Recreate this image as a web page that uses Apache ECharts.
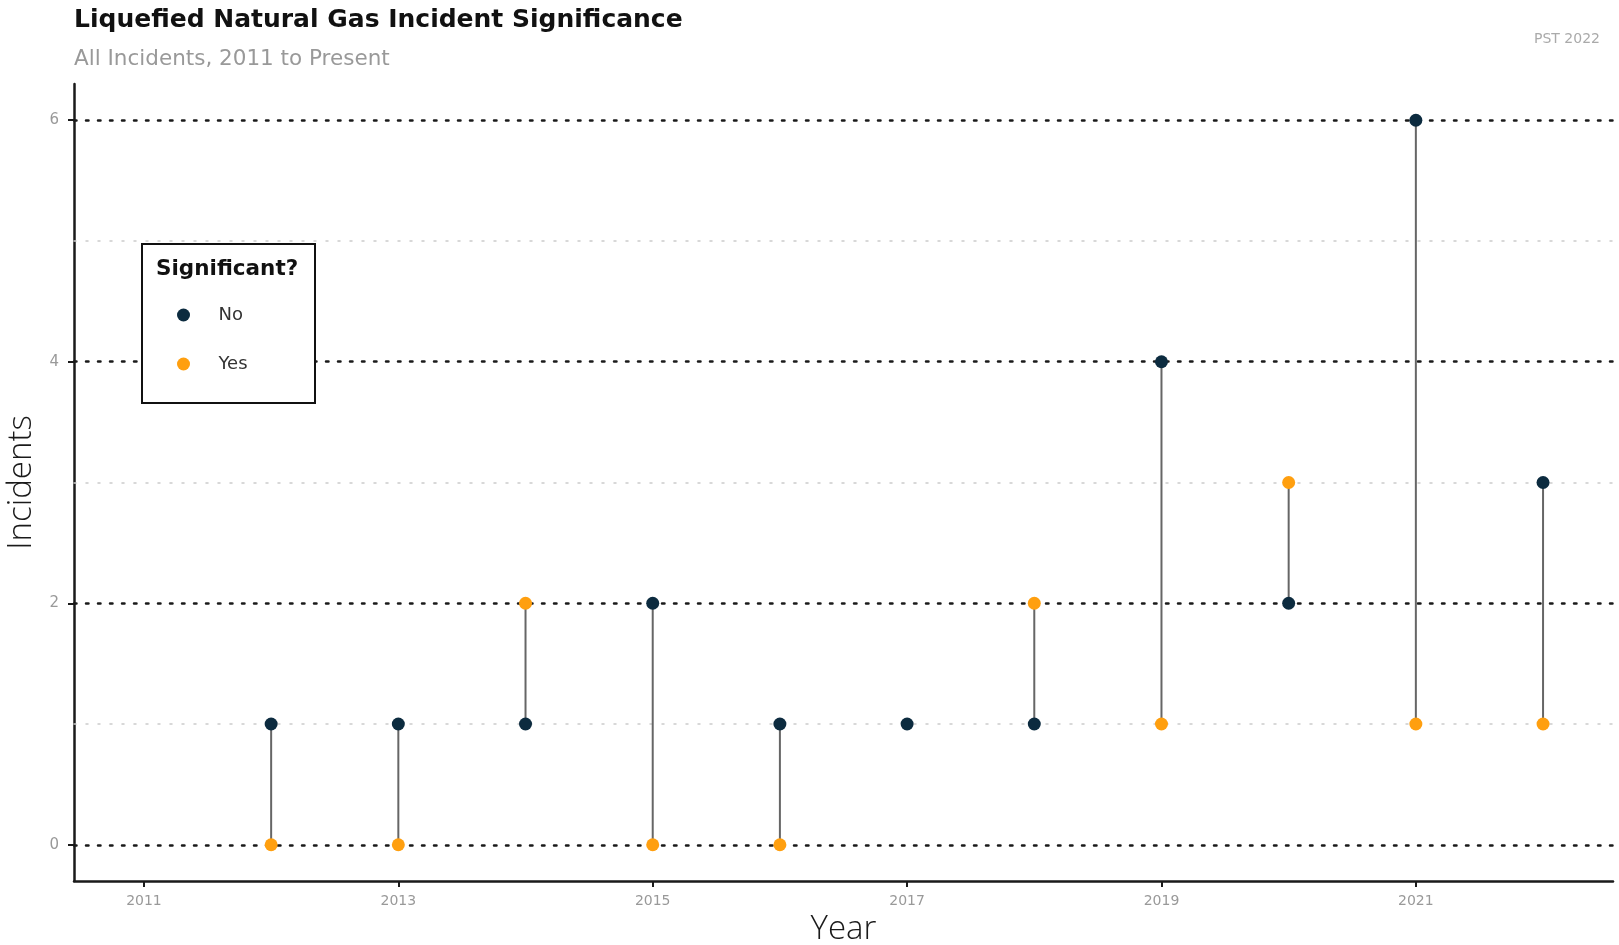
<!DOCTYPE html>
<html><head><meta charset="utf-8">
<script src="https://cdn.jsdelivr.net/npm/echarts@6/dist/echarts.min.js"></script>
<style>html,body{margin:0;padding:0;background:#fff}#c{width:1619px;height:945px}</style>
</head><body><div id="c"></div>
<script>
const years = [2012, 2013, 2014, 2015, 2016, 2017, 2018, 2019, 2020, 2021, 2022];
const notSignificant = [1, 1, 1, 2, 1, 1, 1, 4, 2, 6, 3];
const significant = [0, 0, 2, 0, 0, null, 2, 1, 3, 1, 1];
const xTickLabels = [2011, 2013, 2015, 2017, 2019, 2021];
const yTickLabels = [0, 2, 4, 6];
const yMinorLines = [1, 3, 5];

const FONT = '"DejaVu Sans", sans-serif';
const NAME_FONT = '"Open Sans", "DejaVu Sans", sans-serif';
const C_NO = '#0c2b3f';
const C_YES = '#ff9f0f';

const noData = years.map((y, i) => [y, notSignificant[i]]);
const yesData = years.map((y, i) => [y, significant[i]]).filter(d => d[1] !== null);
const segData = years.map((y, i) => [y, notSignificant[i], significant[i]]).filter(d => d[2] !== null);

const chart = echarts.init(document.getElementById('c'), null, {renderer: 'canvas'});
chart.setOption({
  animation: false,
  backgroundColor: '#fff',
  textStyle: {fontFamily: FONT},
  title: [
    {text: 'Liquefied Natural Gas Incident Significance', left: 69, top: 3,
     textStyle: {fontFamily: FONT, fontSize: 25, fontWeight: 'bold', color: '#111'}},
    {text: 'All Incidents, 2011 to Present', left: 69, top: 43,
     textStyle: {fontFamily: FONT, fontSize: 21.5, fontWeight: 'normal', color: '#999'}},
    {text: 'PST 2022', right: 14, top: 27,
     textStyle: {fontFamily: FONT, fontSize: 14, fontWeight: 'normal', color: '#aaa'}}
  ],
  grid: {left: 74, right: 6, top: 84, bottom: 64, containLabel: false, outerBoundsMode: 'none'},
  xAxis: {
    type: 'value', min: 2010.45, max: 2022.55,
    name: 'Year', nameLocation: 'middle', nameGap: 31,
    nameTextStyle: {fontFamily: NAME_FONT, fontSize: 33, fontWeight: 300, color: '#1a1a1a'},
    axisLine: {show: true, onZero: false, lineStyle: {color: '#1a1a1a', width: 2.5}},
    axisTick: {show: true, length: 6, lineStyle: {color: '#1a1a1a', width: 2}, customValues: xTickLabels},
    axisLabel: {customValues: xTickLabels, formatter: v => String(v), color: '#999', fontSize: 14, margin: 13, fontFamily: FONT},
    splitLine: {show: false}
  },
  yAxis: {
    type: 'value', min: -0.3, max: 6.3,
    name: 'Incidents', nameLocation: 'middle', nameGap: 33, nameRotate: 90,
    nameTextStyle: {fontFamily: NAME_FONT, fontSize: 33, fontWeight: 300, color: '#1a1a1a'},
    axisLine: {show: true, onZero: false, lineStyle: {color: '#1a1a1a', width: 2.5}},
    axisTick: {show: true, length: 6, lineStyle: {color: '#1a1a1a', width: 2}, customValues: yTickLabels},
    axisLabel: {customValues: yTickLabels, color: '#999', fontSize: 15, margin: 15, fontFamily: FONT},
    splitLine: {show: false}
  },
  legend: {
    data: ['No', 'Yes'], orient: 'vertical', left: 172, top: 301,
    itemWidth: 60, itemHeight: 13, itemGap: 31, icon: 'circle', z: 10,
    textStyle: {fontFamily: FONT, fontSize: 18, color: '#333'}
  },
  graphic: [
    {type: 'rect', left: 141, top: 243, z: 8,
     shape: {width: 173, height: 159}, style: {fill: '#fff', stroke: '#111', lineWidth: 2}},
    {type: 'text', left: 156, top: 258, z: 11,
     style: {text: 'Significant?', font: 'bold 21.5px ' + FONT, fill: '#111'}}
  ],
  series: [
    {
      type: 'custom', name: 'seg', data: segData, z: 3, silent: true,
      encode: {x: 0, y: [1, 2]},
      renderItem: (params, api) => {
        const p1 = api.coord([api.value(0), api.value(1)]);
        const p2 = api.coord([api.value(0), api.value(2)]);
        return {type: 'line', shape: {x1: p1[0], y1: p1[1], x2: p2[0], y2: p2[1]},
                style: {stroke: '#666', lineWidth: 2}};
      },
      markLine: {
        silent: true, symbol: 'none', label: {show: false}, z: 1,
        data: [
          ...yTickLabels.map(v => ({yAxis: v, lineStyle: {color: '#1a1a1a', width: 2.5, type: [2.5, 9.5], cap: 'round'}})),
          ...yMinorLines.map(v => ({yAxis: v, lineStyle: {color: '#ccc', width: 1.5, type: [2, 10], cap: 'round'}}))
        ]
      }
    },
    {type: 'scatter', name: 'No', data: noData, symbolSize: 13, z: 5,
     itemStyle: {color: C_NO, opacity: 1}},
    {type: 'scatter', name: 'Yes', data: yesData, symbolSize: 13, z: 5,
     itemStyle: {color: C_YES, opacity: 1}}
  ]
});
</script></body></html>
